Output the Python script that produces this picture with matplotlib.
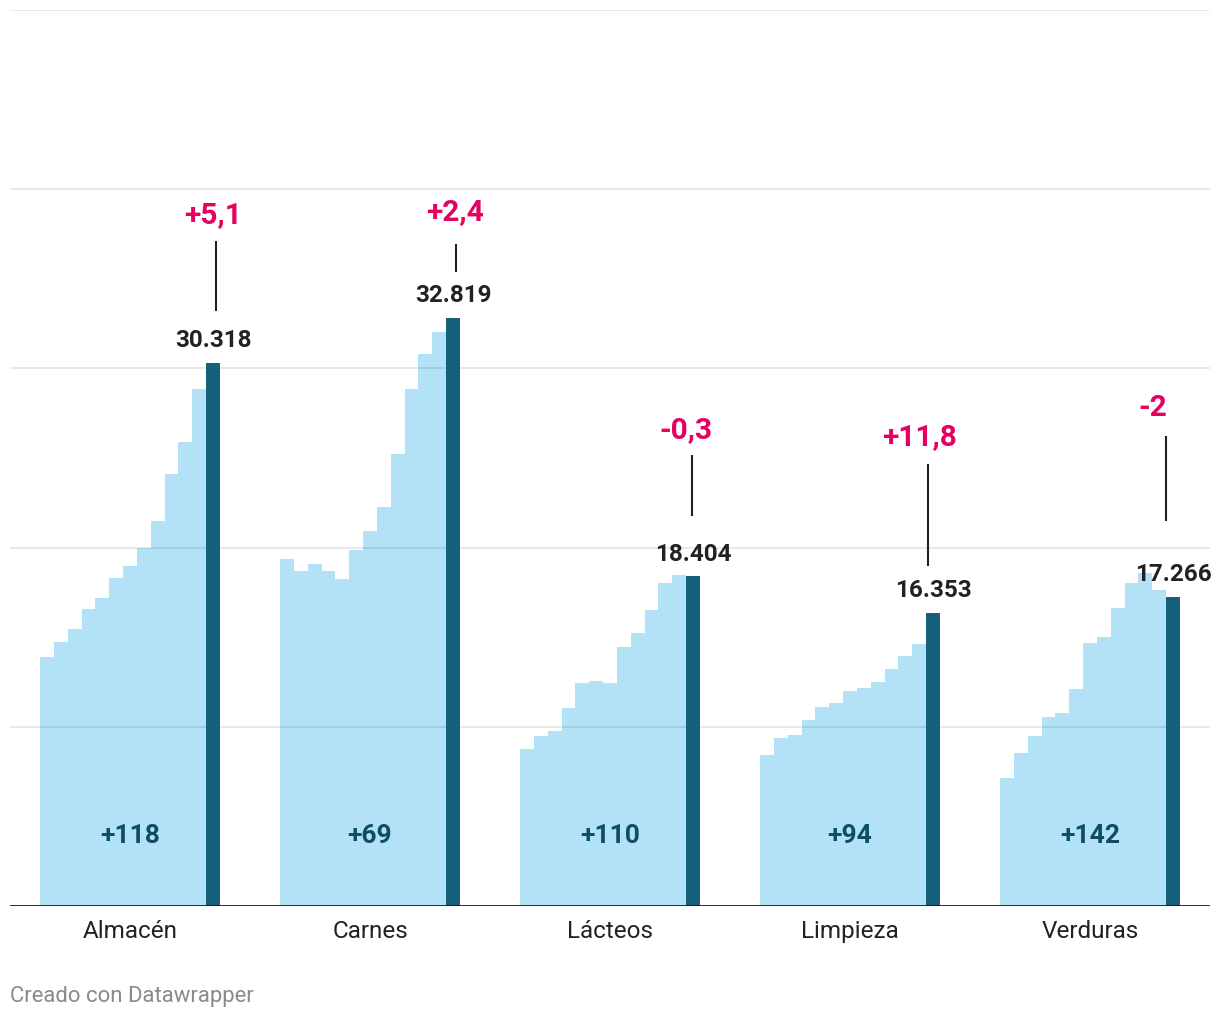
"""Precios por rubro: 12 meses previos (celeste) y mes actual (azul oscuro)."""
import matplotlib

matplotlib.use("Agg")
import matplotlib.pyplot as plt  # noqa: E402

# --- Datos ---
CATEGORIAS = ["Almacén", "Carnes", "Lácteos", "Limpieza", "Verduras"]
ALMACEN = [13900, 14750, 15480, 16550, 17170, 18330, 18950, 19980, 21510, 24090, 25890, 28850]
CARNES = [19380, 18680, 19060, 18720, 18230, 19840, 20900, 22290, 25250, 28830, 30790, 32030]
LACTEOS = [8760, 9470, 9750, 11030, 12430, 12540, 12430, 14450, 15230, 16510, 18020, 18460]
LIMPIEZA = [8420, 9360, 9540, 10360, 11110, 11310, 11990, 12170, 12490, 13230, 13940, 14620]
VERDURAS = [7130, 8540, 9480, 10520, 10750, 12100, 14650, 15000, 16620, 18020, 18580, 17620]
PREVIOS = [ALMACEN, CARNES, LACTEOS, LIMPIEZA, VERDURAS]
ACTUAL = [30318, 32819, 18404, 16353, 17266]
VAR_MENSUAL = ["+5,1", "+2,4", "-0,3", "+11,8", "-2"]
VAR_ANUAL = ["+118", "+69", "+110", "+94", "+142"]

# --- Posiciones de las anotaciones (unidades del eje y) ---
ETIQ_Y = [38630, 38800, 26640, 26200, 27820]
LINEA_SUP = [37120, 36960, 25140, 24690, 26250]
LINEA_INF = [33220, 35400, 21740, 18950, 21460]
ETIQ_DX = [0.0, 0.15, -0.5, -0.95, -1.5]
LINEA_DX = [0.2, 0.2, -0.1, -0.35, -0.5]

# --- Estilo ---
CELESTE = "#b3e2f6"
AZUL = "#16607b"
ROSA = "#e6005f"
TINTA = "#222222"
TEAL = "#0e4d66"
GRIS = "#8a8a8a"

plt.rcParams["font.family"] = ["Roboto", "DejaVu Sans"]

N = 13                      # barras por grupo
PASO = 240 / (180 / N)      # distancia entre grupos en unidades de barra
MARGEN = 30 / (180 / N)

fig = plt.figure(figsize=(12.2, 10.2), dpi=100)
ax = fig.add_axes([10 / 1220, 113 / 1020, 1200 / 1220, 896 / 1020])

for g, (previos, actual) in enumerate(zip(PREVIOS, ACTUAL)):
    x0 = MARGEN + g * PASO
    xs = [x0 + i + 0.5 for i in range(len(previos))]
    ax.bar(xs, previos, width=1.0, color=CELESTE, linewidth=0, zorder=1)
    xa = x0 + len(previos) + 0.5
    ax.bar([xa], [actual], width=1.0, color=AZUL, linewidth=0, zorder=3)

    # valor actual
    ax.annotate(
        f"{actual:,}".replace(",", "."),
        (xa, actual),
        xytext=(0, 12),
        textcoords="offset points",
        ha="center",
        va="baseline",
        fontsize=17.5,
        fontweight="bold",
        color=TINTA,
        zorder=5,
    )
    # variacion mensual + linea
    ax.text(xa + ETIQ_DX[g], ETIQ_Y[g], VAR_MENSUAL[g], ha="center", va="center",
            fontsize=21.5, fontweight="bold", color=ROSA)
    ax.plot([xa + LINEA_DX[g]] * 2, [LINEA_SUP[g], LINEA_INF[g]],
            color=TINTA, linewidth=1.5, solid_capstyle="butt")
    # variacion anual
    ax.text(x0 + N / 2, 3950, VAR_ANUAL[g], ha="center", va="center",
            fontsize=19, fontweight="bold", color=TEAL, zorder=5)
    # categoria
    ax.text(x0 + N / 2, -1380, CATEGORIAS[g], ha="center", va="center",
            fontsize=17.5, color=TINTA)

ax.set_xlim(0, MARGEN * 2 + 4 * PASO + N)
ax.set_ylim(0, 50000)
for y in range(10000, 50001, 10000):
    ax.axhline(y, color="black", alpha=0.1, linewidth=1.2, zorder=2)
ax.axhline(0, color="#1a1a1a", linewidth=2.0, zorder=4)

ax.set_xticks([])
ax.set_yticks([])
for lado in ax.spines.values():
    lado.set_visible(False)
ax.patch.set_alpha(0)

fig.text(10 / 1220, 1 - 997 / 1020, "Creado con Datawrapper", ha="left", va="center",
         fontsize=15.9, color=GRIS)

fig.savefig("out.png", dpi=100, facecolor="white")
